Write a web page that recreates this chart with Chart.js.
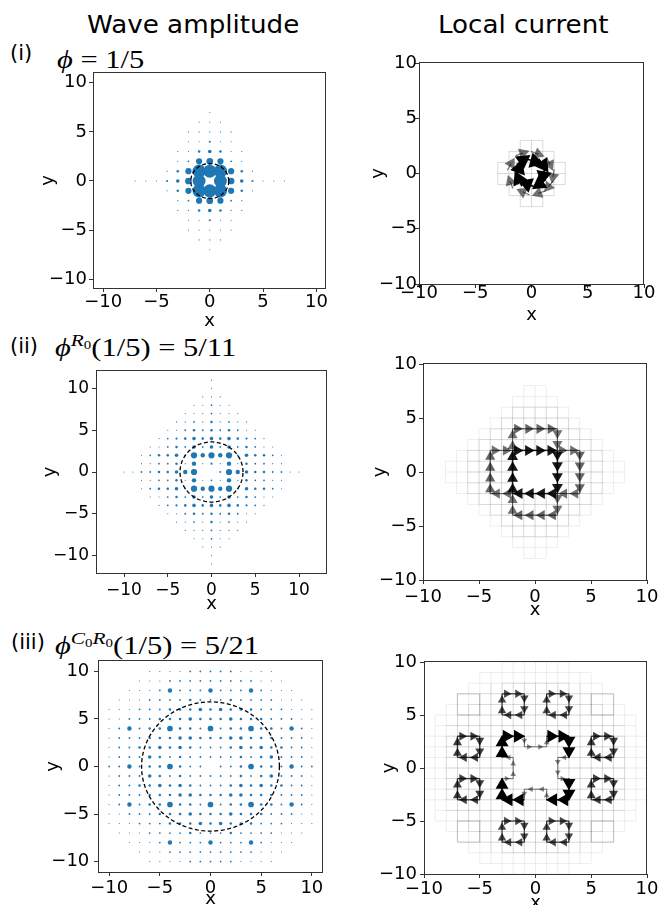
<!DOCTYPE html>
<html>
<head>
<meta charset="utf-8">
<script src="https://cdn.jsdelivr.net/npm/chart.js@4.4.1/dist/chart.umd.min.js"></script>
<style>
  body { margin: 0; background: #fff; }
  #fig { position: relative; width: 660px; height: 905px; overflow: hidden; }
  canvas { position: absolute; }
  .t { position: absolute; white-space: nowrap; line-height: 1; color: #000; }
  .head { font: 24px "DejaVu Sans"; transform: scaleX(1.09); transform-origin: 0 0; }
  .lab { font: 21px "DejaVu Sans"; }
  .math { font: 25px "Liberation Serif", "DejaVu Serif"; transform: scaleX(1.22); transform-origin: 0 0; }
  .eq { margin: 0 0.25em; }
  .sup { font-size: 0.7em; position: relative; top: -0.55em; }
  .sub { font-size: 0.7em; position: relative; top: 0.25em; }
</style>
</head>
<body>
<div id="fig">
  <div class="t head" style="left:87px;top:11px">Wave amplitude</div>
  <div class="t head" style="left:438px;top:11px">Local current</div>

  <div class="t lab" style="left:10px;top:41px">(i)</div>
  <div class="t math" style="left:57px;top:46px"><i>ϕ</i><span class="eq">=</span>1/5</div>

  <div class="t lab" style="left:10px;top:334px">(ii)</div>
  <div class="t math" style="left:55px;top:334px"><i>ϕ</i><span class="sup"><i>R</i><span class="sub">0</span></span>(1/5)<span class="eq">=</span>5/11</div>

  <div class="t lab" style="left:11px;top:630px">(iii)</div>
  <div class="t math" style="left:55px;top:632px"><i>ϕ</i><span class="sup"><i>C</i><span class="sub">0</span><i>R</i><span class="sub">0</span></span>(1/5)<span class="eq">=</span>5/21</div>

  <canvas id="waveI"></canvas>
  <canvas id="curI"></canvas>
  <canvas id="waveII"></canvas>
  <canvas id="curII"></canvas>
  <canvas id="waveIII"></canvas>
  <canvas id="curIII"></canvas>
</div>
<script>
Chart.defaults.font.family = '"DejaVu Sans", sans-serif';
Chart.defaults.font.size = 18;
Chart.defaults.color = '#000';
Chart.defaults.animation = false;
Chart.defaults.events = [];

//. Tick values shared by all panels
const TICKS = [-10, -5, 0, 5, 10];

//. Radius of the dashed circle in each wave panel
const CIRCLE_R = [1.78, 3.6, 6.8];

//. Wave amplitude on the lattice, one row per y (top row = largest y), one char per x.
//. '.' none, '-' faint, '+' tiny, '*' small, then base-36 digits for larger amplitudes
const WAVE_I = [
  ".....................",
  ".....................",
  ".....................",
  "..........-..........",
  ".........---.........",
  "........-----........",
  "........--*--........",
  ".......--121--.......",
  ".......-+676+-.......",
  "......-16rqr61-......",
  "...---*27q.q72*---...",
  "......-16rqr61-......",
  ".......-+676+-.......",
  ".......--121--.......",
  "........--*--........",
  "........-----........",
  ".........---.........",
  "..........-..........",
  ".....................",
  ".....................",
  "....................."
];

const WAVE_II = [
  "...........-...........",
  "...........-...........",
  "..........---..........",
  ".........--+--.........",
  "........---+---........",
  ".......--+-1-+--.......",
  "......--+1+1+1+--......",
  ".....-+*1212121*+-.....",
  "....--+1+2+2+2+1+--....",
  "...-+112+63636+211+-...",
  "...--++1-3-*-3-1++--...",
  ".--++11236..+63211++--.",
  "...--++1-3-+-3-1++--...",
  "...-+112+63636+211+-...",
  "....--+1+2+2+2+1+--....",
  ".....-+*1212121*+-.....",
  "......--+1+1+1+--......",
  ".......--+-1-+--.......",
  "........---+---........",
  ".........--+--.........",
  "..........---..........",
  "...........-...........",
  "...........-..........."
];

const WAVE_III = [
  "....----+++++----....",
  "...---+++++++++---...",
  "..---+3+++3+++3+---..",
  ".---++++1+++1++++---.",
  "---+++111212111+++---",
  "--+++11121112111+++--",
  "-+3+11511+5+11511+3+-",
  "-+++1112211122111+++-",
  "-++112121+++121211++-",
  "-+++21+1+++++1+12+++-",
  "++3+1151++.++1511+3++",
  "-+++21+1+++++1+12+++-",
  "-++112121+++121211++-",
  "-+++1112211122111+++-",
  "-+3+11511+5+11511+3+-",
  "--+++11121112111+++--",
  "---+++111212111+++---",
  ".---++++1+++1++++---.",
  "..---+3+++3+++3+---..",
  "...---+++++++++---...",
  "....----+++++----...."
];

//. Faint lattice bonds: half-extent of the grid line at |k| = 0, 1, 2, ...
//. Two tiers per panel: weak outer bonds and somewhat stronger inner bonds
const GRID_I = [3, 3, 2, 1];
const GRID_II_OUTER = [8, 8, 7, 6, 5, 4, 3, 2, 1];
const GRID_II_INNER = [6, 6, 6, 5, 4, 3, 2];
const GRID_III_OUTER = [10, 10, 10, 10, 9, 9, 8, 7, 6, 5, 3];
const GRID_III_INNER = [8, 8, 8, 8, 8, 7, 6, 5, 3];
//. Current magnitude carried by the weak / stronger faint bonds
const GRID_MAG = [0.07, 0.1];
//. Empty square in the middle of the faint grid (|x|,|y| < hole)
const GRID_HOLE = [0, 2, 2];

//. Current (i): arrow head position x, y, direction in degrees, magnitude
const CURRENT_I = [
  [-0.75, 1.2, 35, 1], [0.3, 1.1, -15, 1], [1.05, 0.75, -55, 1], [1.05, -0.2, -100, 1],
  [0.7, -0.95, -145, 1], [-0.4, -0.95, 160, 1], [-1.15, -0.5, 115, 1], [-1.1, 0.45, 70, 1],
  [-1.8, 0.9, 60, 0.55], [-0.75, 1.85, 20, 0.55], [0.6, 1.75, -20, 0.55], [1.65, 0.8, -65, 0.55],
  [1.9, -0.3, -100, 0.55], [1.5, -1.2, -130, 0.55], [0.6, -1.8, -160, 0.55], [-0.8, -1.65, 155, 0.55],
  [-1.9, -0.7, 110, 0.55]
];

//. Current (ii): bond start x, y, direction, magnitude
const CURRENT_II = [
  [-2, 2, "R", 0.9], [-1, 2, "R", 0.9], [0, 2, "R", 0.9], [1, 2, "R", 0.9],
  [2, 2, "D", 0.9], [2, 1, "D", 0.9], [2, 0, "D", 0.9], [2, -1, "D", 0.9],
  [2, -2, "L", 0.9], [1, -2, "L", 0.9], [0, -2, "L", 0.9], [-1, -2, "L", 0.9],
  [-2, -2, "U", 0.9], [-2, -1, "U", 0.9], [-2, 0, "U", 0.9], [-2, 1, "U", 0.9],
  [-2, 2, "U", 0.55], [-2, 3, "U", 0.55], [-2, 4, "R", 0.6], [-1, 4, "R", 0.6],
  [0, 4, "R", 0.6], [1, 4, "R", 0.6], [2, 4, "D", 0.55], [2, 3, "D", 0.55],
  [2, 2, "R", 0.55], [3, 2, "R", 0.55], [4, 2, "D", 0.6], [4, 1, "D", 0.6],
  [4, 0, "D", 0.6], [4, -1, "D", 0.6], [4, -2, "L", 0.55], [3, -2, "L", 0.55],
  [2, -2, "D", 0.55], [2, -3, "D", 0.55], [2, -4, "L", 0.6], [1, -4, "L", 0.6],
  [0, -4, "L", 0.6], [-1, -4, "L", 0.6], [-2, -4, "U", 0.55], [-2, -3, "U", 0.55],
  [-2, -2, "L", 0.55], [-3, -2, "L", 0.55], [-4, -2, "U", 0.6], [-4, -1, "U", 0.6],
  [-4, 0, "U", 0.6], [-4, 1, "U", 0.6], [-4, 2, "R", 0.55], [-3, 2, "R", 0.55]
];

//. Current (iii): cross-shaped inner loop, bond start x, y, direction, magnitude
const CURRENT_III = [
  [-3, 1, "U", 1], [-3, 2, "U", 1], [-3, 3, "R", 1], [-2, 3, "R", 1],
  [-1, 3, "D", 0.45], [-1, 2, "R", 0.45], [0, 2, "R", 0.45], [1, 2, "U", 0.45],
  [1, 3, "R", 1], [2, 3, "R", 1], [3, 3, "D", 1], [3, 2, "D", 1],
  [3, 1, "L", 0.45], [2, 1, "D", 0.45], [2, 0, "D", 0.45], [2, -1, "R", 0.45],
  [3, -1, "D", 1], [3, -2, "D", 1], [3, -3, "L", 1], [2, -3, "L", 1],
  [1, -3, "U", 0.45], [1, -2, "L", 0.45], [0, -2, "L", 0.45], [-1, -2, "D", 0.45],
  [-1, -3, "L", 1], [-2, -3, "L", 1], [-3, -3, "U", 1], [-3, -2, "U", 1],
  [-3, -1, "R", 0.45], [-2, -1, "U", 0.45], [-2, 0, "U", 0.45], [-2, 1, "L", 0.45]
];
//. Current (iii): small clockwise 2x2 loops, lower-left corner x, y, magnitude
const LOOPS_III = [
  [-3, 5, 0.7], [1, 5, 0.7], [-7, 1, 0.75], [-7, -3, 0.75],
  [5, 1, 0.75], [5, -3, 0.75], [-3, -7, 0.7], [1, -7, 0.7]
];
//. Current (iii): weak 2x2 loops seen only as grey outlines
const GHOST_III = [
  [-7, 5, 0.18], [5, 5, 0.18], [-7, -7, 0.18], [5, -7, 0.18]
];

const DIRS = { R: [1, 0], L: [-1, 0], U: [0, 1], D: [0, -1] };
const AMP = { ".": 0, "-": 0.2, "+": 0.5, "*": 0.7 };
const BLUE = "#1f77b4";

//. Frame around the plot area, like matplotlib spines
const frame = {
  id: "frame",
  afterDatasetsDraw(chart) {
    const { ctx, chartArea: a } = chart;
    ctx.save();
    ctx.strokeStyle = "#333";
    ctx.lineWidth = 1;
    ctx.strokeRect(a.left + 0.5, a.top - 0.5, a.right - a.left - 1, a.bottom - a.top + 1);
    ctx.restore();
  }
};

function ampOf(ch) {
  return ch in AMP ? AMP[ch] : parseInt(ch, 36);
}

function waveDatasets(rows, radius) {
  const c = (rows.length - 1) / 2;
  const pts = [];
  rows.forEach((row, i) => {
    [...row].forEach((ch, j) => {
      const a = ampOf(ch);
      if (a > 0) pts.push({ x: j - c, y: c - i, r: 1.27 * Math.sqrt(a) });
    });
  });
  const ring = [];
  for (let k = 0; k <= 160; k++) {
    const t = (k / 160) * 2 * Math.PI;
    ring.push({ x: radius * Math.cos(t), y: radius * Math.sin(t) });
  }
  return [
    { type: "scatter", data: ring, showLine: true, borderColor: "#000", borderWidth: 1.3,
      borderDash: [4, 2.5], pointRadius: 0, fill: false },
    { type: "bubble", data: pts, backgroundColor: BLUE, borderWidth: 0 }
  ];
}

function seg(p0, p1, color, width) {
  return { type: "scatter", data: [p0, p1], showLine: true, borderColor: color,
    borderWidth: width, pointRadius: 0, fill: false };
}

function gridDatasets(ext, hole, mag) {
  const out = [];
  const col = "rgba(0,0,0," + mag + ")";
  ext.forEach((e, k) => {
    const ks = k === 0 ? [0] : [k, -k];
    ks.forEach(v => {
      const parts = Math.abs(v) < hole ? [[-e, -hole], [hole, e]] : [[-e, e]];
      parts.forEach(([a, b]) => {
        if (b <= a) return;
        out.push(seg({ x: a, y: v }, { x: b, y: v }, col, 1));
        out.push(seg({ x: v, y: a }, { x: v, y: b }, col, 1));
      });
    });
  });
  return out;
}

//. arrows: list of {x, y, dx, dy, m} with head at (x, y)
function arrowDatasets(arrows, headR, tail) {
  const heads = { type: "scatter", data: [], pointStyle: "triangle", pointRadius: [],
    pointRotation: [], pointBackgroundColor: [], pointBorderWidth: 0 };
  const shafts = [];
  arrows.forEach(a => {
    const col = "rgba(0,0,0," + a.m + ")";
    heads.data.push({ x: a.x, y: a.y });
    heads.pointRadius.push(headR(a.m));
    heads.pointRotation.push(90 - (Math.atan2(a.dy, a.dx) * 180) / Math.PI);
    heads.pointBackgroundColor.push(col);
    shafts.push(seg({ x: a.x - tail[0] * a.dx, y: a.y - tail[0] * a.dy },
      { x: a.x + tail[1] * a.dx, y: a.y + tail[1] * a.dy }, col, 0.8 + 0.8 * a.m));
  });
  return [heads, ...shafts];
}

function bondArrows(bonds) {
  return bonds.map(([x, y, d, m]) => {
    const [dx, dy] = DIRS[d];
    return { x: x + 0.4 * dx, y: y + 0.4 * dy, dx, dy, m };
  });
}

function loopBonds(loops) {
  const out = [];
  loops.forEach(([x0, y0, m]) => {
    out.push([x0, y0 + 2, "R", m], [x0 + 1, y0 + 2, "R", m],
      [x0 + 2, y0 + 2, "D", m], [x0 + 2, y0 + 1, "D", m],
      [x0 + 2, y0, "L", m], [x0 + 1, y0, "L", m],
      [x0, y0, "U", m], [x0, y0 + 1, "U", m]);
  });
  return out;
}

function outlineDatasets(loops) {
  const out = [];
  loops.forEach(([x0, y0, m]) => {
    const col = "rgba(0,0,0," + m + ")";
    out.push({ type: "scatter", showLine: true, borderColor: col, borderWidth: 1.2, pointRadius: 0,
      data: [{ x: x0, y: y0 }, { x: x0 + 2, y: y0 }, { x: x0 + 2, y: y0 + 2 },
        { x: x0, y: y0 + 2 }, { x: x0, y: y0 }] });
  });
  return out;
}

//. Panel boxes (plot frame left, top, right, bottom), ranges and label spots
const LAYOUT = {
  waveI:   { box: [93, 73, 326, 288],  x: [-10.95, 10.9], y: [-10.9, 11],    yTitle: 50,  xTitle: 321, xGap: 5.8, yGap: 6 },
  curI:    { box: [419, 63, 644, 284], x: [-10, 10],      y: [-10, 10],      yTitle: 380, xTitle: 315, xGap: 0.5, yGap: 2 },
  waveII:  { box: [96, 371, 327, 573], x: [-13.2, 13.2],  y: [-12.1, 12.1],  yTitle: 52,  xTitle: 604, xGap: 8.7, yGap: 7, fs: 17 },
  curII:   { box: [423, 364, 647, 580], x: [-10, 10],     y: [-10, 10],      yTitle: 382, xTitle: 610, xGap: 8.3, yGap: 6 },
  waveIII: { box: [98, 661, 323, 872], x: [-11.1, 11.1],  y: [-11.1, 11.1],  yTitle: 55,  xTitle: 899, xGap: 7.3, yGap: 8.7 },
  curIII:  { box: [424, 662, 647, 874], x: [-10, 10],     y: [-10, 10],      yTitle: 391, xTitle: 903, xGap: 6.3, yGap: 7 }
};

function makeChart(id, datasets) {
  const L = LAYOUT[id];
  const [l, t, r, b] = L.box;
  const padL = Math.round(l - (L.yTitle - 2.3) + 9);
  const padT = 16, padR = 24;
  const padB = Math.round(L.xTitle - b + 9);
  const cv = document.getElementById(id);
  cv.width = r - l + padL + padR;
  cv.height = b - t + padT + padB;
  cv.style.left = l - padL + "px";
  cv.style.top = t - padT + "px";
  const fs = L.fs || 18;
  const fmt = v => (v < 0 ? "\u2212" + -v : "" + v);
  const axis = (range, gap, title, fit) => ({
    type: "linear", min: range[0], max: range[1],
    afterBuildTicks: s => { s.ticks = TICKS.map(v => ({ value: v })); },
    afterFit: fit,
    ticks: { font: { size: fs, lineHeight: 1 }, padding: gap - 4, callback: fmt,
      autoSkip: false, maxRotation: 0, color: "#000" },
    grid: { drawOnChartArea: false, drawTicks: true, tickLength: 4, color: "#333", lineWidth: 1 },
    border: { display: false },
    title: { display: true, text: title, font: { size: 18, lineHeight: 1 }, padding: 0, color: "#000" }
  });
  return new Chart(cv, {
    type: "scatter",
    data: { datasets },
    options: {
      responsive: false,
      maintainAspectRatio: false,
      layout: { padding: { left: 0, top: padT, right: padR, bottom: 0 } },
      plugins: { legend: { display: false }, tooltip: { enabled: false } },
      scales: {
        x: axis(L.x, L.xGap, "x", s => { s.height = padB; }),
        y: axis(L.y, L.yGap, "y", s => { s.width = padL; })
      }
    },
    plugins: [frame]
  });
}

makeChart("waveI", waveDatasets(WAVE_I, CIRCLE_R[0]));
makeChart("waveII", waveDatasets(WAVE_II, CIRCLE_R[1]));
makeChart("waveIII", waveDatasets(WAVE_III, CIRCLE_R[2]));

const arrowsI = CURRENT_I.map(([x, y, ang, m]) => ({
  x, y, dx: Math.cos((ang * Math.PI) / 180), dy: Math.sin((ang * Math.PI) / 180), m
}));
makeChart("curI", [
  ...arrowDatasets(arrowsI, m => 4 + 5 * m, [0.7, 0]),
  ...gridDatasets(GRID_I, GRID_HOLE[0], 0.14)
]);
makeChart("curII", [
  ...arrowDatasets(bondArrows(CURRENT_II), m => 5 + 1.5 * m, [0.4, 0.6]),
  ...gridDatasets(GRID_II_INNER, GRID_HOLE[1], GRID_MAG[1]),
  ...gridDatasets(GRID_II_OUTER, GRID_HOLE[1], GRID_MAG[0])
]);
makeChart("curIII", [
  ...arrowDatasets(bondArrows(CURRENT_III), m => 7.5 * m, [0.4, 0.6]),
  ...arrowDatasets(bondArrows(loopBonds(LOOPS_III)), m => 7 * m, [0.4, 0.6]),
  ...outlineDatasets(GHOST_III),
  ...gridDatasets(GRID_III_INNER, GRID_HOLE[2], GRID_MAG[1]),
  ...gridDatasets(GRID_III_OUTER, GRID_HOLE[2], GRID_MAG[0])
]);
</script>
</body>
</html>
